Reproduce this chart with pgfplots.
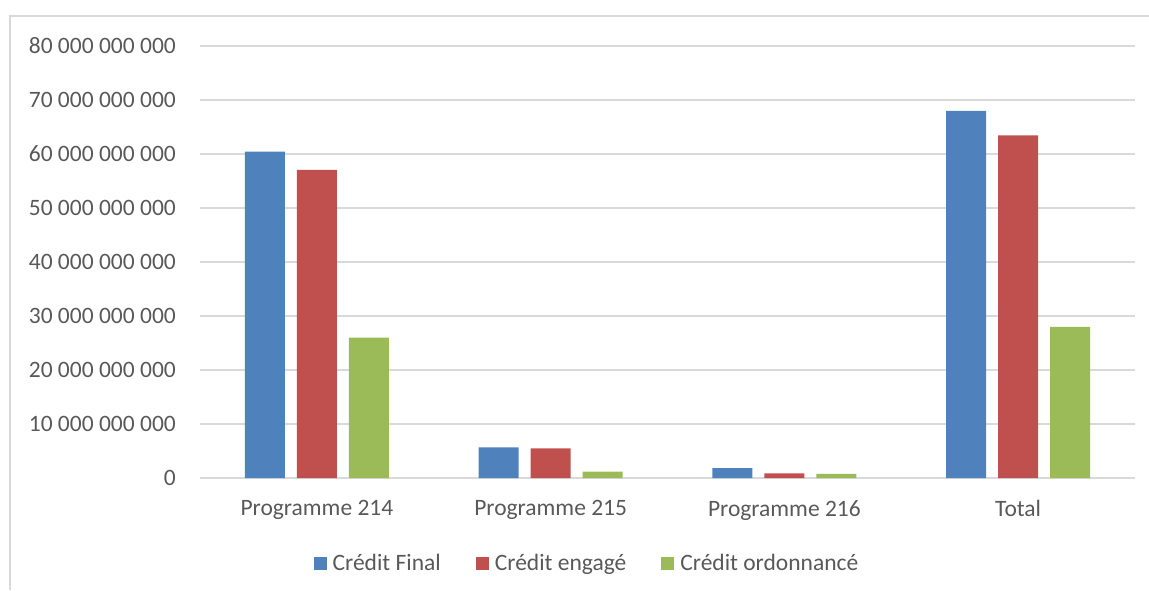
\documentclass[border=0pt]{standalone}
\usepackage{fontspec}
\setmainfont{Carlito}
\usepackage{pgfplots}
\pgfplotsset{compat=1.18}
\definecolor{cblue}{RGB}{79,129,189}
\definecolor{cred}{RGB}{192,80,77}
\definecolor{cgreen}{RGB}{155,187,89}
\definecolor{textgray}{RGB}{89,89,89}
\definecolor{gridgray}{RGB}{217,217,217}
\begin{document}
\fontsize{23.5}{28}\selectfont
\begin{tikzpicture}[x=1pt,y=1pt]
\useasboundingbox (-200,-112) rectangle (949,478);
\draw[color=gridgray, line width=1.3pt] (-190,-112) -- (-190,462) -- (949,462);
\begin{axis}[
  at={(0pt,0pt)}, anchor=south west,
  scale only axis, width=935pt, height=432pt,
  xmin=-0.5, xmax=3.5, ymin=0, ymax=80000000000,
  ybar=12pt, bar width=40pt,
  xtick={0,1,2,3},
  xticklabels={Programme 214, Programme 215, Programme 216, Total},
  ytick={0,10000000000,20000000000,30000000000,40000000000,50000000000,60000000000,70000000000,80000000000},
  yticklabels={0,10 000 000 000,20 000 000 000,30 000 000 000,40 000 000 000,50 000 000 000,60 000 000 000,70 000 000 000,80 000 000 000},
  scaled y ticks=false,
  ymajorgrids,
  major grid style={color=gridgray, line width=1.3pt},
  axis line style={draw=none},
  tick style={draw=none}, major tick length=0pt,
  ticklabel style={text=textgray, font=\fontsize{23.5}{28}\selectfont},
  yticklabel style={anchor=east, inner sep=0pt, xshift=-24pt},
  xticklabel style={anchor=north, inner sep=0pt, yshift=-22pt},
  legend style={draw=none, at={(0.4128,-0.199)}, anchor=center,
    font=\fontsize{23.5}{28}\selectfont, text=textgray,
    nodes={inner sep=0pt},
    /tikz/every odd column/.append style={column sep=6pt},
    /tikz/every even column/.append style={column sep=35pt}},
  legend columns=-1,
  legend image code/.code={\fill[#1] (0pt,-6.5pt) rectangle (13pt,6.5pt);},
]
\addplot[fill=cblue, draw=none] coordinates {(0,60430000000) (1,5660000000) (2,1850000000) (3,68000000000)};
\addlegendentry{Crédit Final}
\addplot[fill=cred, draw=none] coordinates {(0,57050000000) (1,5500000000) (2,850000000) (3,63440000000)};
\addlegendentry{Crédit engagé}
\addplot[fill=cgreen, draw=none] coordinates {(0,26000000000) (1,1160000000) (2,780000000) (3,27970000000)};
\addlegendentry{Crédit ordonnancé}
\end{axis}
\end{tikzpicture}
\end{document}
